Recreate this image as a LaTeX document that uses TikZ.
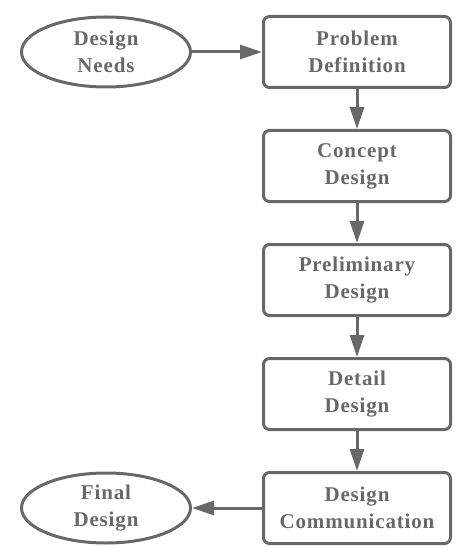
\documentclass[tikz,border=0pt]{standalone}
\usepackage{fontspec}
\newfontfamily\stagefont[LetterSpace=4]{Liberation Serif}
\usepackage{xcolor}
\definecolor{inkgray}{RGB}{104,104,104}
\usetikzlibrary{positioning,shapes.geometric,arrows.meta}
\tikzset{>={Triangle[length=22pt,width=14pt]}}
\tikzset{%
    stage/.style={draw=inkgray, line width=3pt, rounded corners=6pt,
        minimum width=187pt, minimum height=71pt, align=center,
        text=inkgray, font=\stagefont\bfseries\fontsize{21}{27}\selectfont},
    terminal/.style={ellipse, draw=inkgray, line width=3pt,
        minimum width=169pt, minimum height=70pt, inner sep=0pt, align=center,
        text=inkgray, font=\stagefont\bfseries\fontsize{21}{27}\selectfont},
    flow/.style={->, draw=inkgray, line width=3pt}
}
\begin{document}
\begin{tikzpicture}
\useasboundingbox (0,0) rectangle (474pt,-548pt);

\node[stage] (prob) at (357pt,-52pt) {Problem\\Definition};
\node[stage, below=40pt of prob] (conc) {Concept\\Design};
\node[stage, below=40pt of conc] (prel) {Preliminary\\Design};
\node[stage, below=40pt of prel] (deta) {Detail\\Design};
\node[stage, below=40pt of deta] (comm) {Design\\Communication};

\node[terminal, left=70pt of prob] (needs) {Design\\Needs};
\node[terminal, left=70pt of comm] (final) {Final\\Design};

\draw[flow] (needs) -- (prob);
\draw[flow] (prob) -- (conc);
\draw[flow] (conc) -- (prel);
\draw[flow] (prel) -- (deta);
\draw[flow] (deta) -- (comm);
\draw[flow] (comm) -- (final);
\end{tikzpicture}
\end{document}
